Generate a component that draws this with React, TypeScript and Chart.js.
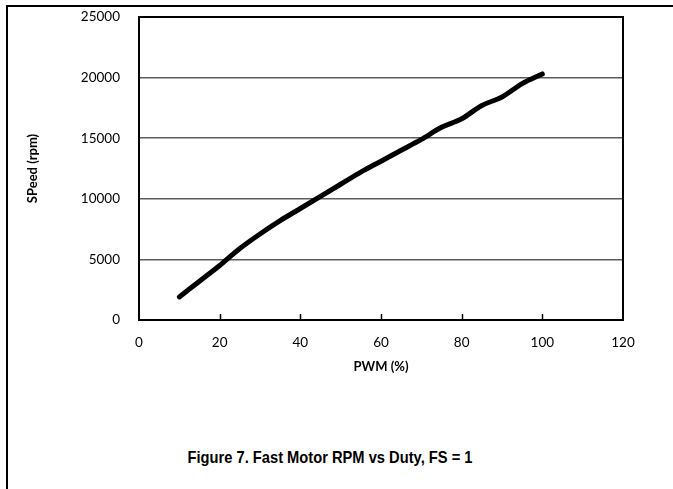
import React, { useEffect, useRef } from "react";
import { Chart, registerables } from "chart.js";

Chart.register(...registerables);

const pwm = [10, 15, 20, 25, 30, 35, 40, 45, 50, 55, 60, 65, 70, 75, 80, 85, 90, 95, 100];
const speed = [1900, 3200, 4500, 5900, 7100, 8200, 9200, 10200, 11200, 12200, 13100, 14000, 14900, 15900, 16600, 17700, 18400, 19500, 20300];
const xMin = 0;
const xMax = 120;
const xStep = 20;
const yMin = 0;
const yMax = 25000;
const yStep = 5000;
const xTitle = "PWM (%)";
const yTitle = "SPeed (rpm)";
const caption = "Figure 7. Fast Motor RPM vs Duty, FS = 1";

const framePlugin = {
  id: "framePlugin",
  afterDraw(chart: any) {
    const { ctx, chartArea: a, scales } = chart;
    ctx.save();
    ctx.strokeStyle = "#000";
    ctx.lineWidth = 2;
    ctx.strokeRect(a.left, a.top, a.right - a.left, a.bottom - a.top);
    ctx.lineWidth = 1.5;
    const xs = scales.x;
    xs.ticks.forEach((t: any) => {
      if (t.value > xMin && t.value < xMax) {
        const px = Math.round(xs.getPixelForValue(t.value)) + 0.5;
        ctx.beginPath();
        ctx.moveTo(px, a.bottom);
        ctx.lineTo(px, a.bottom - 6);
        ctx.stroke();
      }
    });
    ctx.restore();
  },
};

export default function App() {
  const ref = useRef<HTMLCanvasElement | null>(null);

  useEffect(() => {
    if (!ref.current) return;
    const chart = new Chart(ref.current, {
      type: "line",
      data: {
        datasets: [
          {
            data: pwm.map((x, i) => ({ x, y: speed[i] })),
            borderColor: "#000",
            borderWidth: 5,
            borderCapStyle: "round",
            borderJoinStyle: "round",
            pointRadius: 0,
            cubicInterpolationMode: "monotone",
            fill: false,
          },
        ],
      },
      plugins: [framePlugin],
      options: {
        responsive: false,
        animation: false,
        events: [],
        layout: { padding: { top: 17, right: 50, left: 0, bottom: 0 } },
        plugins: { legend: { display: false }, tooltip: { enabled: false }, title: { display: false } },
        scales: {
          x: {
            type: "linear",
            min: xMin,
            max: xMax,
            afterFit: (s: any) => {
              s.height = 80;
              s.paddingLeft = 0;
              s.paddingRight = 0;
            },
            ticks: {
              stepSize: xStep,
              padding: 15,
              color: "#000",
              font: { family: "Lato", size: 13.5 },
              callback: (v: any) => String(v),
              maxRotation: 0,
            },
            grid: { display: false, drawTicks: false },
            border: { display: false },
            title: {
              display: true,
              text: xTitle,
              color: "#000",
              font: { family: "Lato", size: 13, weight: "bold" },
              padding: { top: 0, bottom: 25 },
            },
          },
          y: {
            type: "linear",
            min: yMin,
            max: yMax,
            afterFit: (s: any) => {
              s.width = 139;
              s.paddingTop = 0;
              s.paddingBottom = 0;
            },
            ticks: {
              stepSize: yStep,
              padding: 19,
              color: "#000",
              font: { family: "Lato", size: 13.5 },
              callback: (v: any) => String(v),
            },
            grid: {
              drawTicks: false,
              lineWidth: 1.5,
              color: (c: any) =>
                c.tick && (c.tick.value === yMin || c.tick.value === yMax) ? "rgba(0,0,0,0)" : "#5c5c5c",
            },
            border: { display: false },
            title: {
              display: true,
              text: yTitle,
              color: "#000",
              font: { family: "Lato", size: 13, weight: "bold" },
              padding: { top: 25, bottom: 0 },
            },
          },
        },
      },
    } as any);
    return () => chart.destroy();
  }, []);

  return (
    <div
      style={{
        position: "fixed",
        left: 0,
        top: 0,
        width: 673,
        height: 489,
        background: "#fff",
        overflow: "hidden",
      }}
    >
      <div style={{ position: "absolute", left: 6, top: 5, width: 667, height: 2, background: "#000" }} />
      <div style={{ position: "absolute", left: 6, top: 5, width: 2, height: 484, background: "#000" }} />
      <canvas
        ref={ref}
        width={673}
        height={400}
        style={{ position: "absolute", left: 0, top: 0, width: 673, height: 400, display: "block" }}
      />
      <div
        style={{
          position: "absolute",
          left: 130,
          width: 400,
          top: 447,
          textAlign: "center",
          fontFamily: "'Liberation Sans', Arial, sans-serif",
          fontWeight: "bold",
          fontSize: 16.5,
          lineHeight: "20px",
          color: "#000",
          transform: "scaleX(0.89)",
          transformOrigin: "200px 0",
          whiteSpace: "nowrap",
        }}
      >
        {caption}
      </div>
    </div>
  );
}
